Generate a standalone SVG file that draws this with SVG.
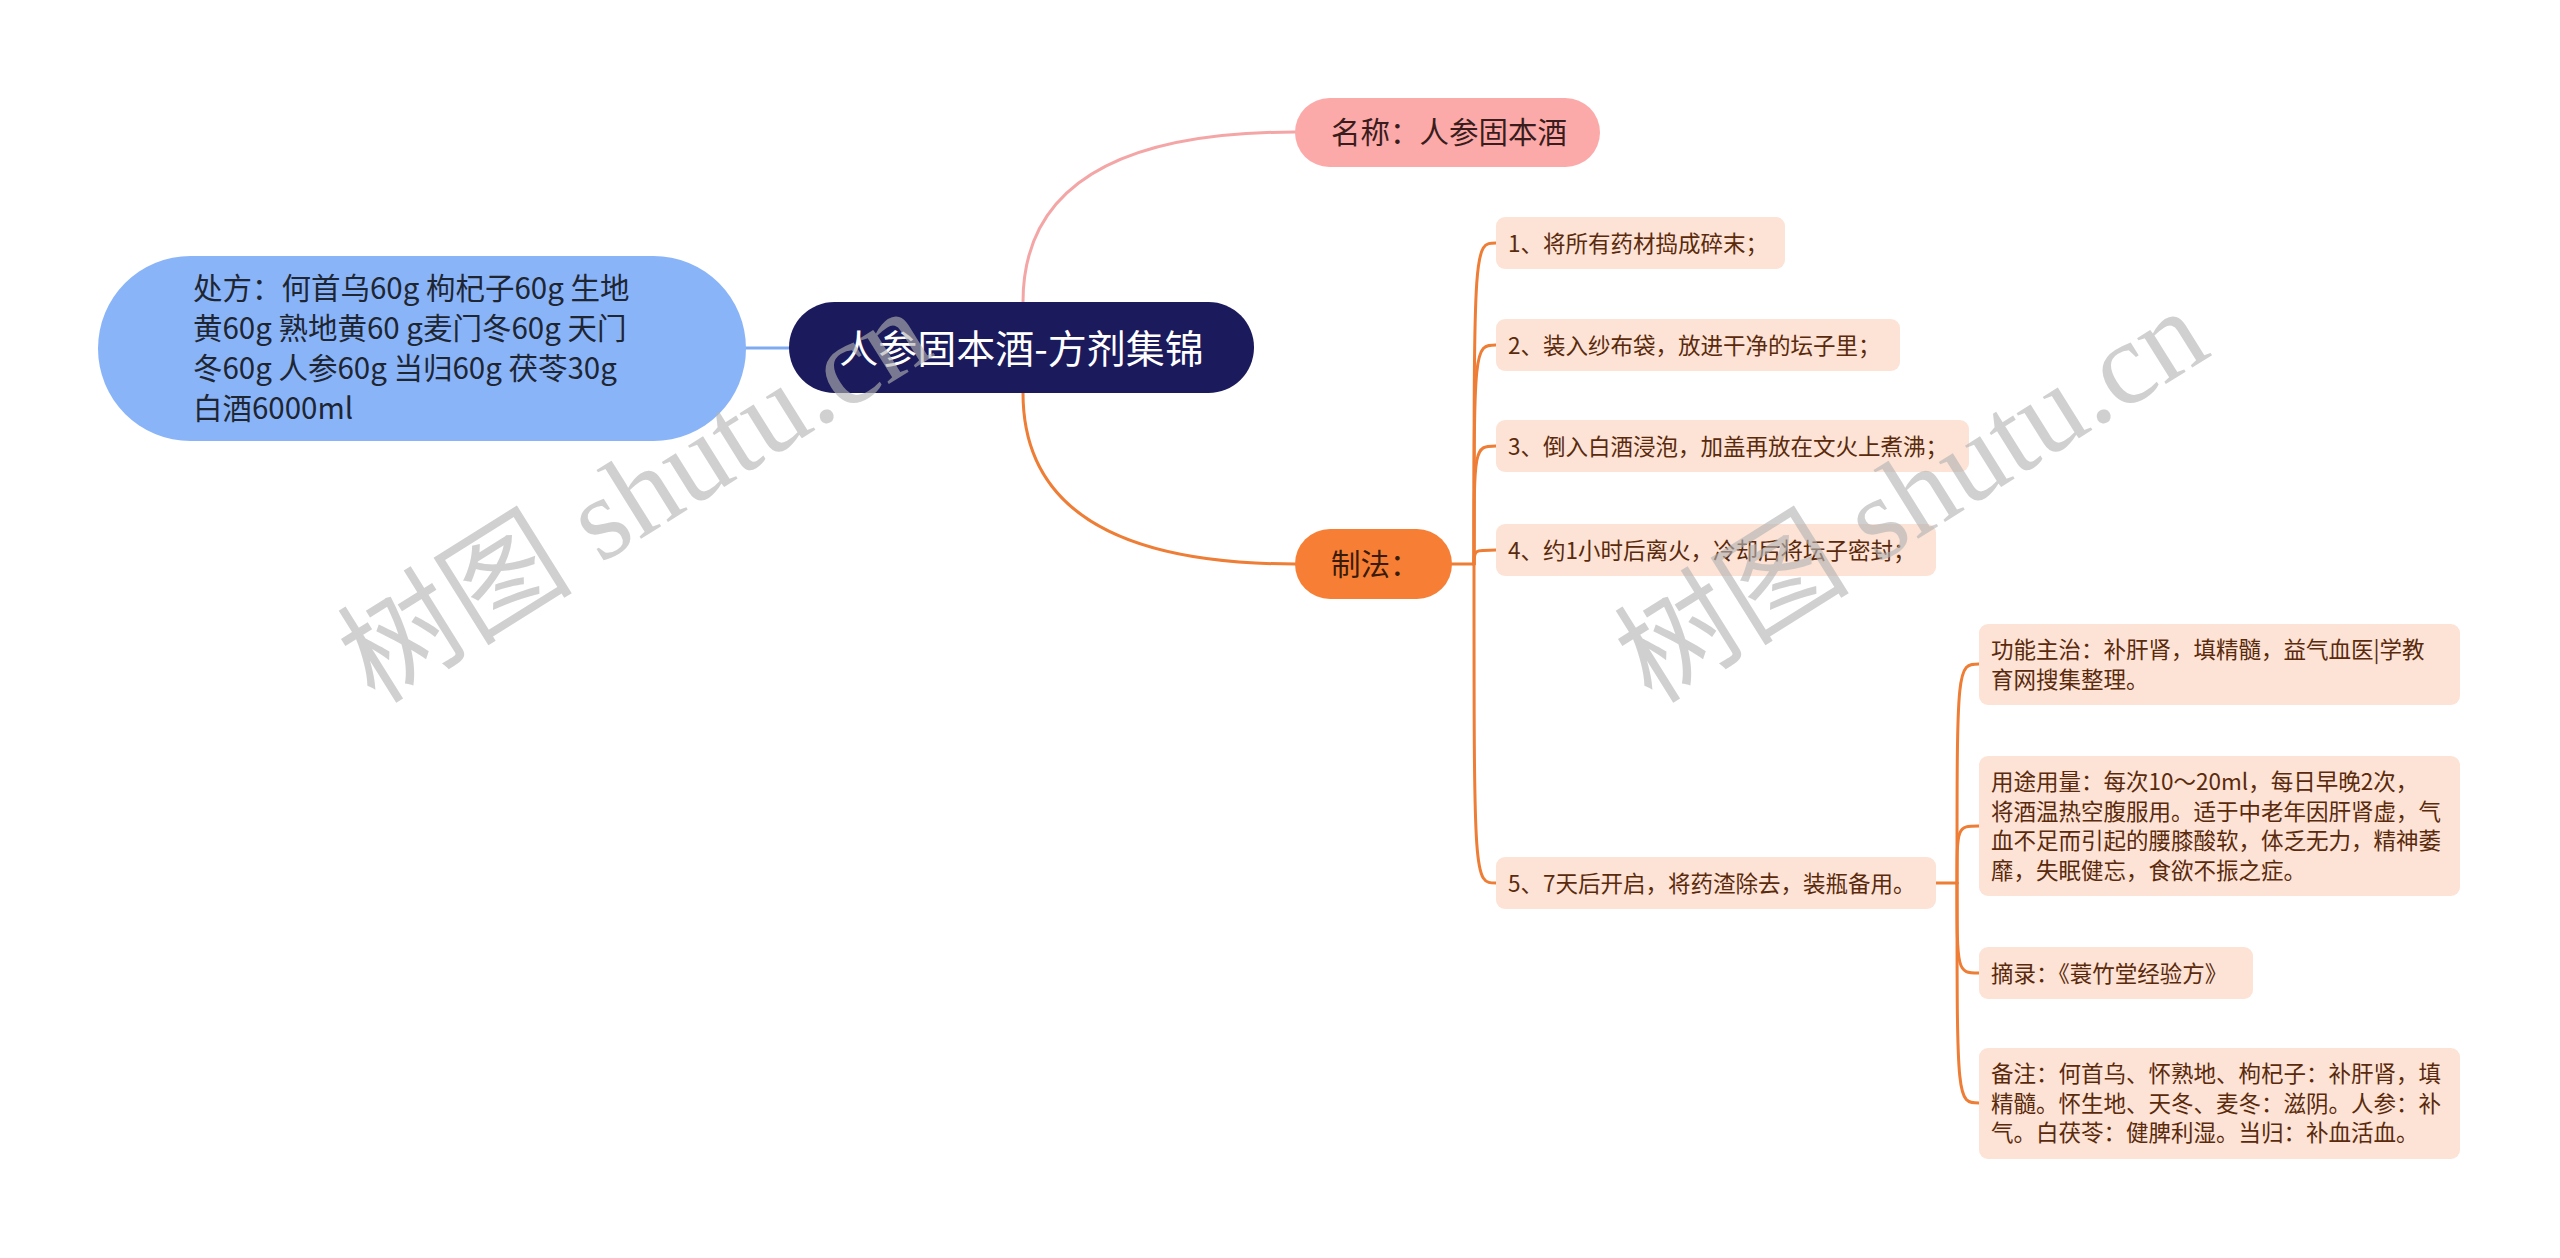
<svg xmlns="http://www.w3.org/2000/svg" width="2560" height="1258" viewBox="0 0 2560 1258">
<style>
.f{font-family:"Noto Sans CJK SC","Noto Sans",sans-serif}
.lv1{font-size:29.5px}
.lv2{font-size:22.5px;fill:#5a2a0c}
.box{fill:#fde3d6}
.con{fill:none;stroke-width:3;stroke-linecap:round}
.or{stroke:#ee7d36}
.wm{font-family:"Liberation Serif","Noto Sans CJK SC",serif;font-size:118px;fill:#b4b4b4;opacity:0.62}
</style>
<rect width="2560" height="1258" fill="#ffffff"/>
<g id="connectors">
<path class="con" d="M746 348 L789 348" stroke="#7eaaf1"/>
<path class="con" d="M1023 302 Q1023 132 1295 132" stroke="#f4a6a6"/>
<path class="con or" d="M1023 393 Q1023 564 1295 564"/>
<path class="con or" d="M1452 564 H1474"/>
<path class="con or" d="M1474 564 C1474 243 1474 243 1496 243"/>
<path class="con or" d="M1474 564 C1474 345 1474 345 1496 345"/>
<path class="con or" d="M1474 564 C1474 446 1474 446 1496 446"/>
<path class="con or" d="M1474 564 C1474 550 1474 550 1496 550"/>
<path class="con or" d="M1474 564 C1474 883 1474 883 1496 883"/>
<path class="con or" d="M1936 883 H1957"/>
<path class="con or" d="M1957 883 C1957 664 1957 664 1979 664"/>
<path class="con or" d="M1957 883 C1957 826 1957 826 1979 826"/>
<path class="con or" d="M1957 883 C1957 973 1957 973 1979 973"/>
<path class="con or" d="M1957 883 C1957 1103 1957 1103 1979 1103"/>
</g>
<g id="root">
<rect x="789" y="302" width="465" height="91" rx="45.5" fill="#1b1a5c"/>
<text class="f" x="1021.5" y="363" font-size="39" fill="#ffffff" text-anchor="middle">人参固本酒-方剂集锦</text>
</g>
<g id="recipe">
<rect x="98" y="256" width="648" height="185" rx="92.5" fill="#8ab4f8"/>
<text class="f lv1" fill="#1e2633"><tspan x="193" y="299">处方：何首乌60g 枸杞子60g 生地</tspan><tspan x="193" y="339">黄60g 熟地黄60 g麦门冬60g 天门</tspan><tspan x="193" y="379">冬60g 人参60g 当归60g 茯苓30g</tspan><tspan x="193" y="419">白酒6000ml</tspan></text>
</g>
<g id="name">
<rect x="1295" y="98" width="305" height="69" rx="34.5" fill="#fcaaa9"/>
<text class="f lv1" x="1331" y="143" fill="#3a1c1c">名称：人参固本酒</text>
</g>
<g id="method">
<rect x="1295" y="529" width="157" height="70" rx="35" fill="#f67f35"/>
<text class="f lv1" x="1331" y="575" fill="#3a1a08">制法：</text>
</g>
<g id="step1">
<rect class="box" x="1496" y="217" width="289" height="52" rx="9"/>
<text class="f lv2" x="1508" y="251.6">1、将所有药材捣成碎末；</text>
</g>
<g id="step2">
<rect class="box" x="1496" y="319" width="404" height="52" rx="9"/>
<text class="f lv2" x="1508" y="353.6">2、装入纱布袋，放进干净的坛子里；</text>
</g>
<g id="step3">
<rect class="box" x="1496" y="420" width="473" height="52" rx="9"/>
<text class="f lv2" x="1508" y="454.6">3、倒入白酒浸泡，加盖再放在文火上煮沸；</text>
</g>
<g id="step4">
<rect class="box" x="1496" y="524" width="440" height="52" rx="9"/>
<text class="f lv2" x="1508" y="558.6">4、约1小时后离火，冷却后将坛子密封；</text>
</g>
<g id="step5">
<rect class="box" x="1496" y="857" width="440" height="52" rx="9"/>
<text class="f lv2" x="1508" y="891.6">5、7天后开启，将药渣除去，装瓶备用。</text>
</g>
<g id="effect">
<rect class="box" x="1979" y="624" width="481" height="81" rx="9"/>
<text class="f lv2"><tspan x="1991" y="658">功能主治：补肝肾，填精髓，益气血医|学教</tspan><tspan x="1991" y="687.5">育网搜集整理。</tspan></text>
</g>
<g id="usage">
<rect class="box" x="1979" y="756" width="481" height="140" rx="9"/>
<text class="f lv2"><tspan x="1991" y="790.4">用途用量：每次10～20ml，每日早晚2次，</tspan><tspan x="1991" y="819.9">将酒温热空腹服用。适于中老年因肝肾虚，气</tspan><tspan x="1991" y="849.4">血不足而引起的腰膝酸软，体乏无力，精神萎</tspan><tspan x="1991" y="878.9">靡，失眠健忘，食欲不振之症。</tspan></text>
</g>
<g id="source">
<rect class="box" x="1979" y="947" width="274" height="52" rx="9"/>
<text class="f lv2" x="1991" y="981.6">摘录：《蓑竹堂经验方》</text>
</g>
<g id="note">
<rect class="box" x="1979" y="1048" width="481" height="111" rx="9"/>
<text class="f lv2"><tspan x="1991" y="1082.1">备注：何首乌、怀熟地、枸杞子：补肝肾，填</tspan><tspan x="1991" y="1111.6">精髓。怀生地、天冬、麦冬：滋阴。人参：补</tspan><tspan x="1991" y="1141.1">气。白茯苓：健脾利湿。当归：补血活血。</tspan></text>
</g>
<g id="watermarks">
<text class="wm" x="375" y="705" transform="rotate(-32 375 705)">树图 shutu.cn</text>
<text class="wm" x="1652" y="705" transform="rotate(-32 1652 705)">树图 shutu.cn</text>
</g>
</svg>
